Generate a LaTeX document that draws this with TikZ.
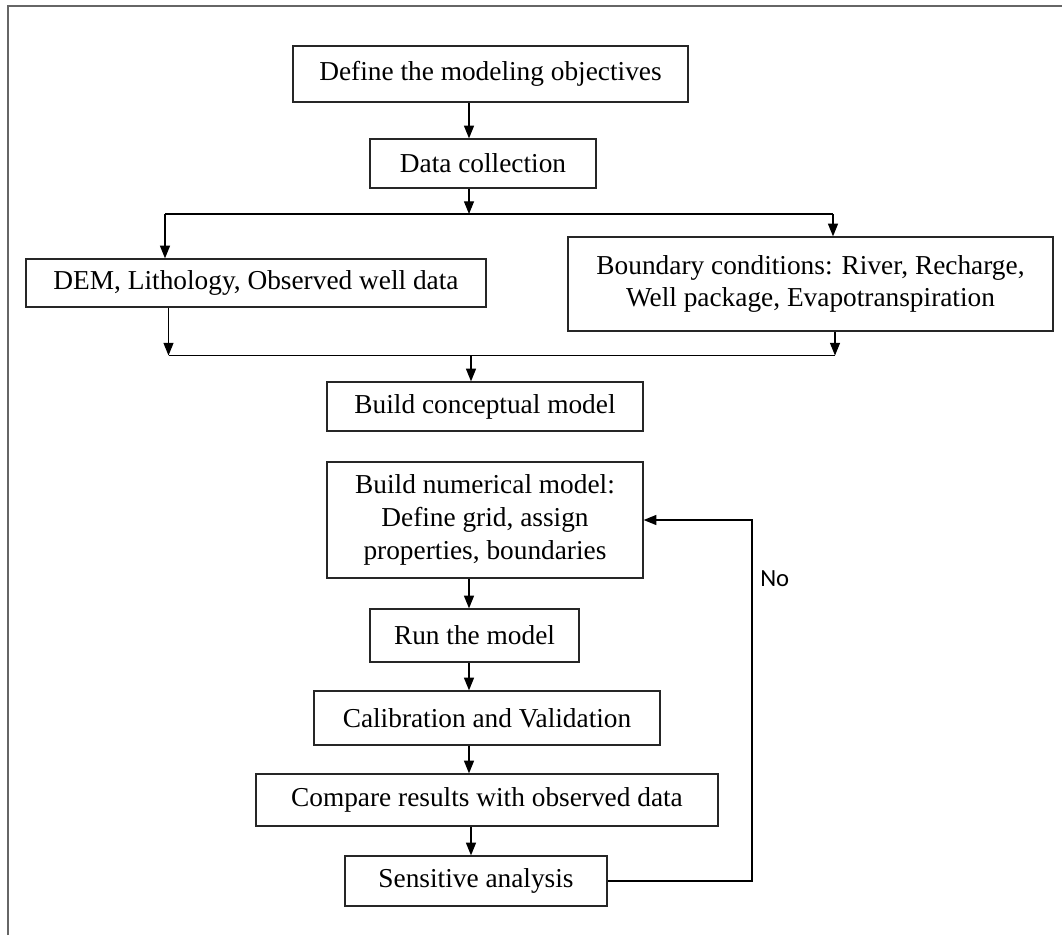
\documentclass[tikz,border=0pt]{standalone}
\usepackage{fontspec}
\setmainfont{Liberation Serif}
\newfontfamily\labelfont{Carlito}
\usetikzlibrary{arrows.meta,positioning}
\begin{document}
\begin{tikzpicture}[x=0.75pt,y=-0.75pt,
	procbox/.style={draw=black!85,line width=1pt,align=center,inner sep=0pt,
		font=\fontsize{20.5}{24.5}\selectfont},
	boxwh/.style 2 args={minimum width={#1*0.75pt},minimum height={#2*0.75pt}},
	flow/.style={line width=0.9pt,-{Triangle[length=9.5pt,width=7.5pt]}},
	plain/.style={line width=0.9pt}]
	\useasboundingbox (0,0) rectangle (1062,935);
	%Frame (top and left edge only)
	\draw[black!60,line width=1.5pt] (8,935) -- (8,6) -- (1062,6);
	%Process boxes
	\node [procbox,boxwh={395}{56}] (obj) at (490.5,74) {Define the modeling objectives};
	\node [procbox,boxwh={226}{49}] (coll) at (483,163.5) {Data collection};
	\node [procbox,boxwh={460}{48}] (dem) at (256,283) {DEM, Lithology, Observed well data};
	\node [procbox,boxwh={485}{94}] (bnd) at (810.5,284) {Boundary conditions: River, Recharge,\\Well package, Evapotranspiration};
	\node [procbox,boxwh={316}{49}] (concept) at (485,406.5) {Build conceptual model};
	\node [procbox,boxwh={316}{116}] (numer) at (485,520) {Build numerical model:\\Define grid, assign\\properties, boundaries};
	\node [procbox,boxwh={209}{53}] (run) at (474.5,635.5) {Run the model};
	\node [procbox,boxwh={346}{54}] (calib) at (487,718) {Calibration and Validation};
	\node [procbox,boxwh={462}{52}] (comp) at (487,800) {Compare results with observed data};
	\node [procbox,boxwh={262}{50}] (sens) at (476,881) {Sensitive analysis};
	%Helper coordinates for the connectors
	\coordinate (trunk) at (469,0);
	\coordinate (split) at (469,214);
	\coordinate (splitL) at (165,214);
	\coordinate (splitR) at (833,214);
	\coordinate (mergeL) at (168.5,355.5);
	\coordinate (mergeR) at (835,355.5);
	\coordinate (merge) at (471,355.5);
	\coordinate (loop) at (752,0);
	%Top part
	\draw[flow] (obj.south -| trunk) -- (coll.north -| trunk);
	\draw[flow] (coll.south -| split) -- (split);
	\draw[plain] (splitL) -- (splitR);
	\draw[flow] (splitL) -- (dem.north -| splitL);
	\draw[flow] (splitR) -- (bnd.north -| splitR);
	\draw[flow] (dem.south -| mergeL) -- (mergeL);
	\draw[flow] (bnd.south -| mergeR) -- (mergeR);
	\draw[plain] (mergeL) -- (mergeR);
	\draw[flow] (merge) -- (concept.north -| merge);
	%Lower chain
	\draw[flow] (numer.south -| trunk) -- (run.north -| trunk);
	\draw[flow] (run.south -| trunk) -- (calib.north -| trunk);
	\draw[flow] (calib.south -| trunk) -- (comp.north -| trunk);
	\draw[flow] (comp.south -| merge) -- (sens.north -| merge);
	%Feedback loop
	\draw[flow] (sens.east) -- (sens.east -| loop) -- (numer.east -| loop) -- (numer.east);
	\node [anchor=west,inner sep=0pt,font=\labelfont\fontsize{18.5}{22}\selectfont] (nolabel) at (760,579) {No};
\end{tikzpicture}
\end{document}
